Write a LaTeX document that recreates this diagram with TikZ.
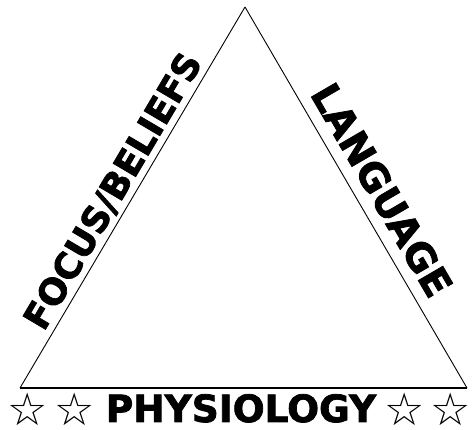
\documentclass[tikz,border=0pt]{standalone}
\usepackage{fontspec}
\newfontfamily\heavyfont{DejaVu Sans}[BoldFeatures={FakeBold=2}]
\newfontfamily\starfont{DejaVu Sans}
\usetikzlibrary{positioning}

\begin{document}
\begin{tikzpicture}[
  x=1pt, y=1pt,
  every node/.style={font=\heavyfont\bfseries\fontsize{36}{40}\selectfont},
  sidelabel/.style={sloped, above, inner sep=4pt},
  starnode/.style={font=\starfont\fontsize{45}{46}\selectfont, inner sep=0pt},
  edge/.style={line width=0.9pt},
  base/.style={line width=1.7pt}
]
\useasboundingbox (0,0) rectangle (473,430);

% Corners
\coordinate (top) at (245,423);
\coordinate (bl)  at (20,42);
\coordinate (br)  at (467,42);

% Edges
\draw[edge] (bl) -- node[sidelabel, pos=0.49] (focus) {FOCUS/BELIEFS} (top);
\draw[edge] (top) -- node[sidelabel, pos=0.515, inner sep=11pt,
  font=\heavyfont\bfseries\fontsize{39}{40}\selectfont] (language) {LANGUAGE} (br);
\draw[base] (bl) -- (br);

% Bottom label
\node[anchor=base, font=\heavyfont\bfseries\fontsize{37.5}{40}\selectfont] (physio) at (241,8) {PHYSIOLOGY};
\node[starnode] (s1) at (28,21) {☆};
\node[starnode] (s2) at (75,21) {☆};
\node[starnode] (s3) at (405,21) {☆};
\node[starnode] (s4) at (451,21) {☆};

\end{tikzpicture}
\end{document}
